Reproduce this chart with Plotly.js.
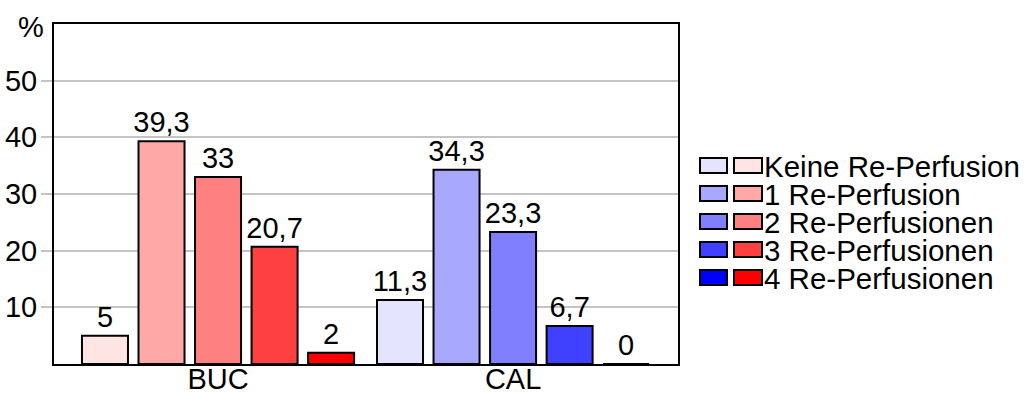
<!DOCTYPE html>
<html>
<head>
<meta charset="utf-8">
<script src="https://cdn.plot.ly/plotly-3.0.1.min.js"></script>
<style>html,body{margin:0;padding:0;background:#fff;}#chart{width:1027px;height:394px;}</style>
</head>
<body>
<div id="chart"></div>
<script>
// Groups and series
const categories = ['BUC', 'CAL'];
const seriesNames = ['Keine Re-Perfusion', '1 Re-Perfusion', '2 Re-Perfusionen', '3 Re-Perfusionen', '4 Re-Perfusionen'];
const bucValues = [5, 39.3, 33, 20.7, 2];
const calValues = [11.3, 34.3, 23.3, 6.7, 0];
const redShades = ['#FFE4E4', '#FFA8A8', '#FF8080', '#FF4040', '#FF0000'];
const blueShades = ['#E4E4FF', '#A8A8FF', '#8080FF', '#4040FF', '#0000FF'];
const yTicks = [10, 20, 30, 40, 50];

const W = 1027, H = 394;
const M = {l: 54, r: 349, t: 24, b: 30};
const plotW = W - M.l - M.r, plotH = H - M.t - M.b;
const px = x => (x - M.l) / plotW;
const py = y => (H - M.b - y) / plotH;
const fmt = v => String(v).replace('.', ',');
const FONT = 'Liberation Sans, Arial, sans-serif';
const FS = 29;

const traces = seriesNames.map((name, i) => {
  const ys = [bucValues[i], calValues[i]];
  return {
    type: 'bar',
    name: name,
    x: categories,
    y: ys,
    text: ys.map(fmt),
    textposition: 'outside',
    constraintext: 'none',
    cliponaxis: false,
    textfont: {family: FONT, size: FS, color: '#000'},
    marker: {color: [redShades[i], blueShades[i]], line: {color: '#000', width: 2}},
    showlegend: false,
    hoverinfo: 'skip'
  };
});

// Legend built from paired swatches: blue (CAL) and red (BUC) per series
const shapes = [];
const annotations = [{
  text: '%', xref: 'paper', yref: 'paper', x: px(31), y: py(27),
  xanchor: 'center', yanchor: 'middle', showarrow: false,
  font: {family: FONT, size: FS, color: '#000'}
}];
seriesNames.forEach((name, i) => {
  const cy = 165.5 + i * 28;
  shapes.push({type: 'rect', xref: 'paper', yref: 'paper',
    x0: px(700), x1: px(727), y0: py(cy - 7.5), y1: py(cy + 7.5),
    fillcolor: blueShades[i], line: {color: '#000', width: 2}});
  shapes.push({type: 'rect', xref: 'paper', yref: 'paper',
    x0: px(734), x1: px(762), y0: py(cy - 7.5), y1: py(cy + 7.5),
    fillcolor: redShades[i], line: {color: '#000', width: 2}});
  annotations.push({text: name, xref: 'paper', yref: 'paper', x: px(762), y: py(cy + 1),
    xanchor: 'left', yanchor: 'middle', showarrow: false,
    font: {family: FONT, size: 29.5, color: '#000'}});
});

const layout = {
  width: W, height: H,
  margin: M,
  paper_bgcolor: '#fff', plot_bgcolor: '#fff',
  font: {family: FONT, size: FS, color: '#000'},
  barmode: 'group',
  bargap: 0.042,
  bargroupgap: 0.186,
  xaxis: {
    range: [-0.556, 1.559], showgrid: false, ticks: '', zeroline: false,
    showline: true, linecolor: '#000', linewidth: 2, mirror: true,
    ticklabelstandoff: -12,
    tickfont: {family: FONT, size: FS, color: '#000'}
  },
  yaxis: {
    range: [0, 60], tickvals: yTicks, ticktext: yTicks.map(String),
    showgrid: true, gridcolor: '#C4C4C4', gridwidth: 2,
    ticks: 'outside', ticklen: 11, tickcolor: '#C4C4C4', tickwidth: 2,
    ticklabelstandoff: -2,
    zeroline: false, showline: true, linecolor: '#000', linewidth: 2, mirror: true,
    tickfont: {family: FONT, size: FS, color: '#000'}
  },
  shapes: shapes,
  annotations: annotations,
  showlegend: false
};

Plotly.newPlot('chart', traces, layout, {displayModeBar: false, staticPlot: true});
</script>
</body>
</html>
